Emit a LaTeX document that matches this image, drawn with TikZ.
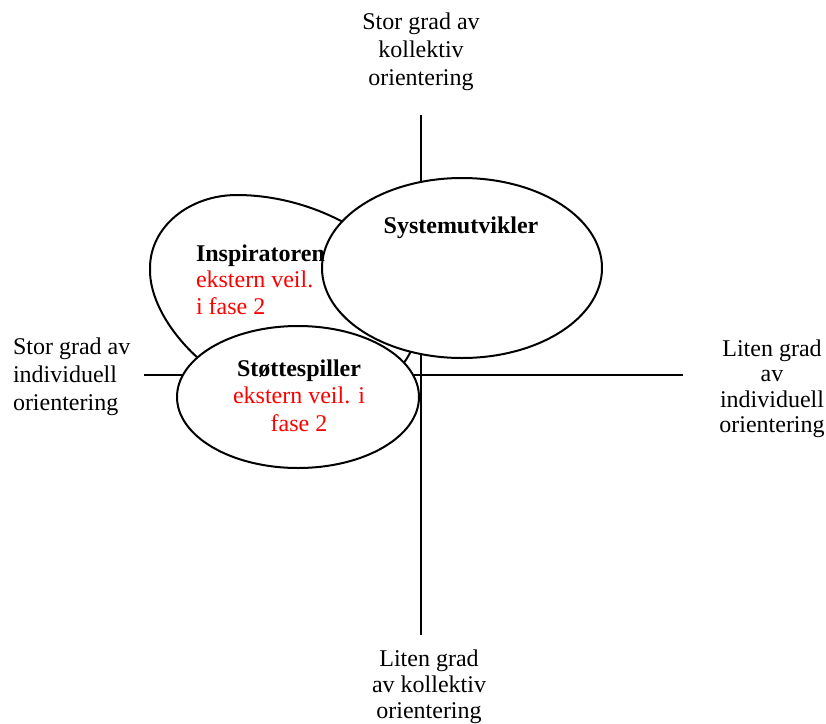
\documentclass[tikz,border=0pt]{standalone}
\usepackage{fontspec}
\setmainfont{Liberation Serif}
\begin{document}
\begin{tikzpicture}[x=0.5pt,y=-0.5pt,line width=1pt,
  lbl/.style={inner sep=0pt,font=\fontsize{12}{14}\selectfont},
  shapeline/.style={draw=black,fill=white,line width=1pt},
  axis/.style={draw=black,line width=1pt}]
\useasboundingbox (0,0) rectangle (826,724);
% axes
\coordinate (vt) at (421,115);
\coordinate (vb) at (421,635);
\coordinate (hl) at (144,375);
\coordinate (hr) at (683,375);
\draw[axis] (vt) -- (vb);
\draw[axis] (hl) -- (hr);
% Inspiratoren blob
\coordinate (iL) at (150,268);
\coordinate (iT) at (237,195);
\coordinate (iR) at (417,322);
\coordinate (iB) at (300,402);
\draw[shapeline] (iL) .. controls (150,227) and (189,195) .. (iT)
  .. controls (322,195) and (417,250) .. (iR)
  .. controls (417,372) and (370,402) .. (iB)
  .. controls (225,402) and (148,325) .. (iL) -- cycle;
% Systemutvikler ellipse
\draw[shapeline] (462,268) ellipse [x radius=140,y radius=90];
% Stottespiller ellipse
\draw[shapeline] (298,397) ellipse [x radius=121,y radius=71];
% axis labels
\node[lbl,anchor=north,align=center] (toplbl) at (421,11.6)
  {Stor grad av\\kollektiv\\orientering};
\node[lbl,anchor=north west,align=left] (leftlbl) at (12,336.6)
  {Stor grad av\\individuell\\orientering};
\node[lbl,anchor=north,align=center,font=\fontsize{12}{12.75}\selectfont] (rightlbl) at (772,338.6)
  {Liten grad\\av\\individuell\\orientering};
\node[lbl,anchor=north,align=center,font=\fontsize{12}{13}\selectfont] (botlbl) at (429,648.6)
  {Liten grad\\av kollektiv\\orientering};
% ellipse texts
\node[lbl,anchor=base] (systxt) at (461,233) {\textbf{Systemutvikler}};
\node[lbl,anchor=north west,align=left,font=\fontsize{12}{13.25}\selectfont] (instxt) at (195,243.8)
  {\textbf{Inspiratoren}\\\textcolor{red}{ekstern veil.}\\\textcolor{red}{i fase 2}};
\node[lbl,anchor=north,align=center,font=\fontsize{12}{13.75}\selectfont] (stotxt) at (299,358.8)
  {\textbf{Støttespiller}\\\textcolor{red}{ekstern veil. i}\\\textcolor{red}{fase 2}};
\end{tikzpicture}
\end{document}
